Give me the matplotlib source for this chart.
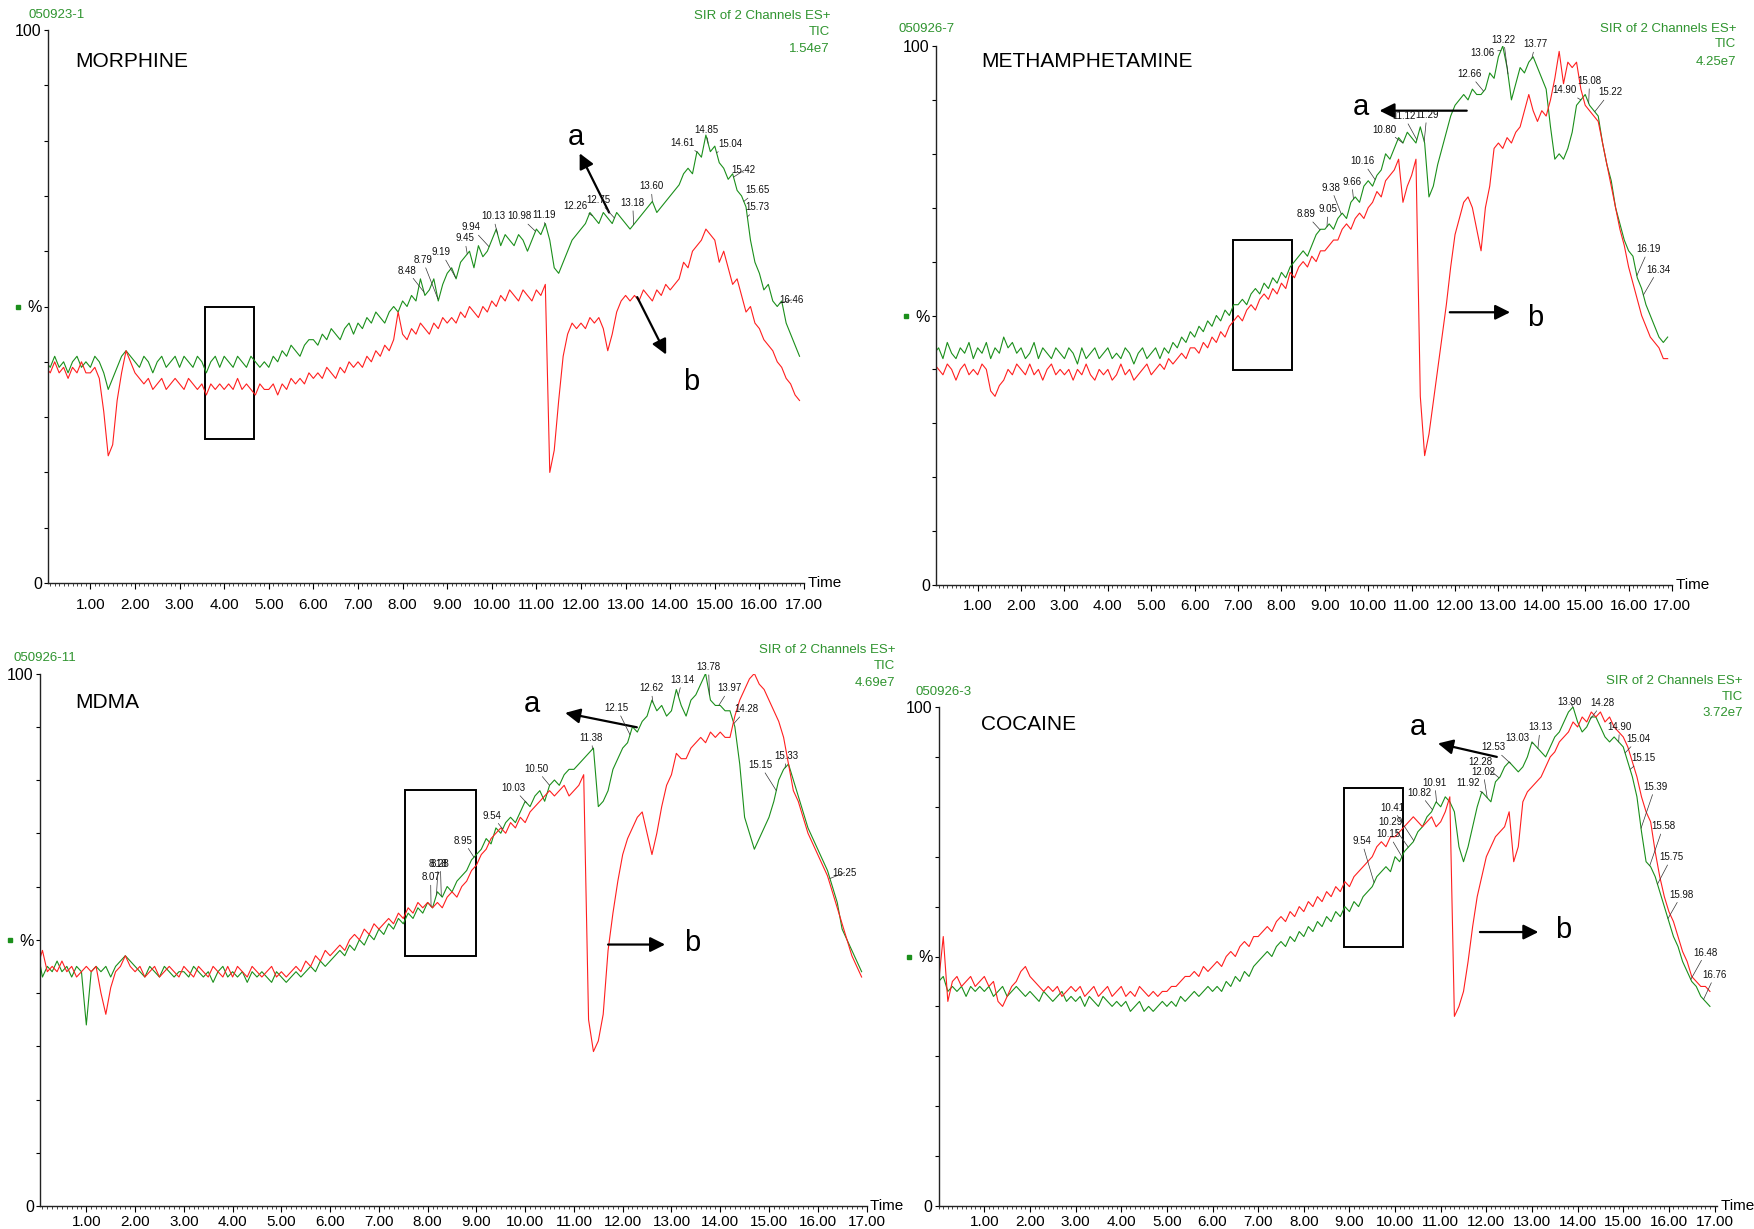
import numpy as np
import matplotlib
matplotlib.use('Agg')
import matplotlib.pyplot as plt
import matplotlib.transforms as mtransforms
from matplotlib.patches import Rectangle
from matplotlib.ticker import MultipleLocator

SANS = ['Liberation Sans', 'DejaVu Sans']
plt.rcParams['font.family'] = SANS

GREEN = '#1b8f1b'
TEXT_GREEN = '#2f942f'
RED = '#ff1f1f'

W, H = 1754, 1229

# retention time (min), one reading every 0.1 min
TIME = np.arange(170) / 10.0

# ---- MORPHINE (050923-1) ----
MORPHINE_A = [
    40, 39, 41, 39, 40, 38, 40, 41, 39, 40,
    39, 41, 40, 38, 35, 37, 39, 41, 42, 41,
    40, 39, 41, 40, 38, 40, 41, 39, 40, 41,
    39, 41, 40, 39, 41, 40, 38, 40, 41, 39,
    41, 40, 39, 41, 40, 39, 41, 40, 39, 40,
    39, 41, 40, 42, 41, 43, 42, 41, 43, 44,
    44, 43, 45, 44, 46, 45, 44, 46, 47, 45,
    47, 46, 48, 47, 49, 48, 47, 49, 50, 49,
    51, 50, 52, 51, 55, 52, 53, 55, 51, 54,
    56, 57, 55, 58, 59, 60, 57, 61, 59, 60,
    62, 64, 61, 63, 62, 61, 63, 62, 60, 62,
    64, 63, 65, 62, 57, 56, 58, 60, 62, 63,
    64, 65, 67, 66, 65, 67, 66, 65, 67, 66,
    65, 64, 65, 66, 67, 68, 69, 67, 68, 69,
    70, 71, 72, 74, 75, 74, 78, 77, 81, 78,
    79, 76, 75, 73, 74, 71, 70, 68, 62, 58,
    56, 53, 54, 51, 50, 51, 47, 45, 43, 41,
]
MORPHINE_B = [
    39, 38, 40, 38, 39, 37, 39, 38, 40, 38,
    38, 39, 37, 31, 23, 25, 33, 38, 42, 40,
    38, 37, 36, 37, 35, 36, 37, 35, 36, 37,
    36, 35, 37, 36, 35, 36, 34, 36, 35, 36,
    35, 36, 35, 37, 35, 36, 35, 34, 36, 35,
    35, 36, 34, 36, 35, 37, 36, 37, 36, 38,
    37, 38, 37, 39, 38, 37, 39, 38, 40, 39,
    40, 39, 41, 40, 42, 41, 43, 42, 44, 49,
    45, 44, 46, 45, 47, 46, 45, 47, 46, 48,
    47, 48, 47, 49, 48, 50, 49, 48, 50, 49,
    51, 50, 52, 51, 53, 52, 51, 53, 52, 51,
    53, 52, 54, 20, 24, 33, 41, 45, 47, 46,
    47, 46, 48, 47, 48, 46, 42, 45, 49, 51,
    52, 51, 52, 51, 53, 52, 51, 53, 52, 54,
    53, 54, 55, 58, 57, 60, 61, 62, 64, 63,
    62, 58, 60, 57, 54, 55, 52, 49, 50, 47,
    46, 44, 43, 42, 40, 39, 37, 36, 34, 33,
]

# ---- METHAMPHETAMINE (050926-7) ----
METH_A = [
    43, 44, 42, 45, 43, 42, 44, 43, 45, 42,
    44, 43, 45, 42, 44, 43, 46, 44, 45, 43,
    44, 42, 43, 45, 42, 44, 43, 42, 44, 43,
    42, 44, 43, 41, 44, 42, 43, 44, 42, 43,
    44, 42, 43, 42, 44, 43, 41, 43, 44, 42,
    43, 44, 42, 44, 43, 45, 44, 46, 45, 47,
    46, 48, 47, 49, 48, 50, 49, 51, 50, 52,
    52, 53, 52, 54, 55, 54, 56, 55, 57, 56,
    58, 57, 59, 60, 61, 62, 61, 63, 65, 66,
    66, 67, 66, 68, 69, 68, 71, 72, 71, 74,
    75, 74, 76, 77, 80, 79, 81, 83, 82, 84,
    83, 82, 85, 82, 72, 74, 78, 81, 84, 87,
    89, 90, 91, 90, 92, 91, 91, 92, 95, 94,
    98, 100, 96, 90, 93, 96, 95, 97, 98, 96,
    94, 92, 85, 79, 80, 79, 81, 84, 89, 90,
    91, 89, 88, 87, 82, 78, 75, 70, 67, 64,
    62, 61, 57, 55, 52, 50, 48, 46, 45, 46,
]
METH_B = [
    41, 40, 39, 41, 40, 38, 40, 41, 39, 40,
    39, 41, 40, 36, 35, 37, 38, 40, 39, 41,
    40, 39, 41, 39, 40, 38, 40, 41, 39, 40,
    39, 40, 38, 40, 39, 41, 39, 38, 40, 39,
    40, 38, 39, 41, 39, 40, 38, 39, 40, 41,
    39, 40, 41, 40, 42, 41, 42, 43, 42, 44,
    44, 43, 45, 44, 46, 45, 47, 46, 48, 49,
    50, 49, 51, 52, 51, 53, 54, 53, 55, 54,
    56, 55, 58, 57, 59, 60, 59, 61, 60, 62,
    62, 63, 64, 64, 66, 67, 66, 68, 69, 68,
    70, 71, 73, 72, 75, 76, 77, 79, 71, 74,
    76, 79, 35, 24, 28, 34, 40, 46, 52, 59,
    65, 68, 71, 72, 70, 66, 62, 70, 74, 81,
    82, 81, 83, 82, 84, 85, 88, 91, 88, 86,
    88, 87, 90, 94, 99, 93, 97, 96, 97, 92,
    89, 88, 87, 86, 82, 78, 74, 70, 66, 63,
    59, 56, 53, 50, 48, 46, 45, 44, 42, 42,
]

# ---- MDMA (050926-11) ----
MDMA_A = [
    48, 43, 45, 44, 46, 44, 45, 43, 45, 44,
    34, 44, 45, 44, 45, 43, 45, 46, 47, 46,
    45, 44, 43, 45, 44, 43, 45, 44, 43, 44,
    44, 43, 45, 44, 43, 44, 42, 44, 45, 43,
    44, 43, 44, 42, 44, 43, 44, 43, 42, 44,
    43, 42, 43, 44, 43, 44, 45, 44, 46, 45,
    46, 47, 48, 47, 49, 48, 50, 49, 51, 50,
    52, 51, 53, 52, 54, 53, 55, 54, 56, 55,
    57, 56, 59, 58, 60, 59, 61, 62, 63, 65,
    66, 67, 69, 68, 71, 70, 72, 73, 72, 74,
    76, 75, 77, 78, 76, 79, 80, 79, 81, 82,
    82, 83, 84, 85, 86, 75, 76, 78, 82, 84,
    86, 87, 90, 89, 91, 92, 95, 93, 94, 92,
    93, 97, 94, 92, 95, 96, 98, 100, 95, 94,
    94, 93, 93, 90, 83, 73, 70, 67, 69, 71,
    73, 76, 80, 82, 83, 80, 77, 74, 71, 69,
    67, 65, 63, 60, 57, 52, 50, 48, 46, 44,
]
MDMA_B = [
    45, 48, 44, 45, 44, 46, 44, 45, 43, 44,
    45, 44, 45, 40, 36, 41, 44, 45, 47, 45,
    44, 45, 43, 44, 45, 43, 44, 45, 44, 43,
    45, 44, 43, 45, 44, 43, 45, 44, 43, 45,
    43, 45, 44, 43, 45, 44, 43, 44, 45, 43,
    44, 43, 44, 45, 44, 46, 45, 47, 46, 48,
    47, 48, 49, 48, 50, 51, 50, 52, 51, 53,
    52, 53, 54, 53, 55, 54, 56, 55, 57, 56,
    57, 56, 57, 56, 58, 59, 58, 60, 61, 63,
    64, 66, 67, 69, 70, 71, 70, 72, 71, 73,
    72, 74, 75, 76, 77, 78, 77, 78, 79, 77,
    78, 79, 81, 35, 29, 31, 36, 48, 55, 61,
    66, 69, 71, 73, 74, 70, 66, 70, 75, 79,
    81, 85, 84, 84, 86, 87, 88, 87, 89, 88,
    89, 88, 88, 92, 95, 97, 99, 100, 98, 97,
    95, 93, 91, 88, 83, 78, 76, 73, 70, 68,
    66, 64, 62, 59, 56, 53, 50, 47, 45, 43,
]

# ---- COCAINE (050926-3) ----
COCAINE_A = [
    45, 46, 43, 44, 43, 44, 42, 44, 43, 44,
    43, 44, 42, 43, 44, 42, 43, 44, 43, 42,
    43, 42, 41, 43, 42, 41, 42, 43, 41, 42,
    41, 42, 40, 42, 41, 40, 42, 41, 40, 41,
    40, 41, 39, 40, 41, 39, 40, 39, 40, 41,
    40, 41, 40, 42, 41, 42, 43, 42, 43, 44,
    43, 44, 43, 45, 44, 46, 45, 47, 46, 48,
    49, 50, 51, 50, 52, 53, 52, 54, 53, 55,
    54, 56, 55, 57, 56, 58, 57, 59, 58, 60,
    59, 61, 60, 62, 63, 64, 66, 67, 68, 67,
    70, 69, 71, 72, 73, 75, 76, 78, 79, 81,
    80, 82, 81, 79, 72, 69, 72, 76, 80, 83,
    82, 81, 85, 86, 88, 89, 88, 87, 88, 90,
    93, 92, 91, 90, 92, 94, 95, 97, 99, 100,
    97, 95, 96, 98, 98, 96, 94, 93, 94, 93,
    92, 89, 86, 82, 75, 69, 68, 66, 63, 60,
    57, 54, 52, 49, 47, 45, 44, 42, 41, 40,
]
COCAINE_B = [
    45, 54, 41, 45, 46, 44, 45, 46, 44, 45,
    46, 44, 45, 41, 40, 42, 44, 45, 47, 48,
    46, 45, 44, 43, 44, 43, 44, 42, 43, 44,
    43, 44, 42, 43, 44, 42, 43, 44, 42, 43,
    44, 42, 43, 42, 44, 43, 42, 43, 42, 43,
    43, 44, 44, 45, 46, 46, 47, 46, 48, 47,
    48, 49, 48, 50, 51, 50, 52, 53, 52, 54,
    54, 55, 56, 55, 57, 58, 57, 59, 58, 60,
    59, 61, 60, 62, 61, 63, 62, 64, 63, 65,
    64, 66, 67, 68, 69, 70, 72, 73, 72, 74,
    74, 75, 76, 77, 78, 77, 76, 77, 78, 76,
    77, 79, 82, 38, 40, 43, 49, 56, 62, 66,
    70, 72, 74, 75, 76, 79, 69, 72, 81, 83,
    84, 85, 86, 88, 90, 91, 93, 94, 95, 97,
    96, 98, 97, 99, 98, 99, 97, 98, 96, 95,
    94, 92, 89, 86, 82, 79, 77, 71, 66, 62,
    59, 57, 54, 51, 49, 46, 45, 44, 44, 43,
]

# peak labels: (retention time, label x, label y)
MORPHINE_PEAKS = [
    ('8.48', 8.10, 56.5), ('8.79', 8.45, 58.4), ('9.19', 8.87, 59.8), ('9.45', 9.39, 62.3),
    ('9.94', 9.54, 64.3), ('10.13', 10.03, 66.3), ('10.98', 10.63, 66.3), ('11.19', 11.17, 66.6),
    ('12.26', 11.88, 68.2), ('12.75', 12.38, 69.3), ('13.18', 13.16, 68.7), ('13.60', 13.57, 71.7),
    ('14.61', 14.27, 79.6), ('14.85', 14.81, 81.9), ('15.04', 15.35, 79.4), ('15.42', 15.65, 74.6),
    ('15.65', 15.96, 71.0), ('15.73', 15.96, 68.0), ('16.46', 16.72, 51.2),
]
METH_PEAKS = [
    ('8.89', 8.56, 68.8), ('9.05', 9.07, 69.7), ('9.38', 9.14, 73.7), ('9.66', 9.62, 74.8),
    ('10.16', 9.87, 78.6), ('10.80', 10.38, 84.5), ('11.12', 10.82, 87.0), ('11.29', 11.35, 87.2),
    ('12.66', 12.33, 94.8), ('13.06', 12.64, 98.7), ('13.22', 13.12, 101.2), ('13.77', 13.85, 100.3),
    ('14.90', 14.52, 91.8), ('15.08', 15.10, 93.5), ('15.22', 15.57, 91.4), ('16.19', 16.46, 62.3),
    ('16.34', 16.68, 58.5),
]
MDMA_PEAKS = [
    ('8.07', 8.06, 61.7), ('8.18', 8.22, 64.3), ('8.28', 8.26, 64.3), ('8.95', 8.73, 68.6),
    ('9.54', 9.32, 73.3), ('10.03', 9.75, 78.5), ('10.50', 10.22, 82.1), ('11.38', 11.36, 87.9),
    ('12.15', 11.88, 93.5), ('12.62', 12.58, 97.2), ('13.14', 13.22, 98.8), ('13.78', 13.76, 101.2),
    ('13.97', 14.19, 97.2), ('14.28', 14.54, 93.3), ('15.15', 14.82, 82.8), ('15.33', 15.36, 84.5),
    ('16.25', 16.55, 62.6),
]
COCAINE_PEAKS = [
    ('9.54', 9.27, 73.1), ('10.15', 9.86, 74.5), ('10.29', 9.90, 76.9), ('10.41', 9.94, 79.8),
    ('10.82', 10.53, 82.8), ('10.91', 10.87, 84.8), ('11.92', 11.60, 84.7), ('12.02', 11.93, 87.0),
    ('12.28', 11.86, 89.0), ('12.53', 12.15, 91.9), ('13.03', 12.67, 93.7), ('13.13', 13.18, 95.9),
    ('13.90', 13.83, 101.0), ('14.28', 14.55, 100.8), ('14.90', 14.92, 96.0), ('15.04', 15.33, 93.6),
    ('15.15', 15.44, 89.7), ('15.39', 15.70, 84.0), ('15.58', 15.88, 76.1), ('15.75', 16.06, 69.9),
    ('15.98', 16.28, 62.4), ('16.48', 16.81, 50.8), ('16.76', 17.01, 46.3),
]

# highlighted window (t0, t1, y0, y1)
MORPHINE_BOX = (3.56, 4.67, 26.0, 50.0)
METH_BOX = (6.88, 8.25, 39.8, 64.1)
MDMA_BOX = (7.53, 9.00, 46.9, 78.1)
COCAINE_BOX = (8.88, 10.18, 52.0, 83.8)

# arrows: letter (x, y), arrow tail, arrow head
MORPHINE_ARROWS = [('a', (11.88, 80.7), (12.63, 67.0), (11.97, 77.7)),
                   ('b', (14.47, 36.4), (13.26, 51.7), (13.91, 41.3))]
METH_ARROWS = [('a', (9.82, 88.7), (12.27, 88.0), (10.26, 88.0)),
               ('b', (13.85, 49.5), (11.88, 50.6), (13.27, 50.6))]
MDMA_ARROWS = [('a', (10.14, 94.3), (12.29, 89.9), (10.82, 92.6)),
               ('b', (13.42, 49.4), (11.70, 49.1), (12.87, 49.1))]
COCAINE_ARROWS = [('a', (10.51, 96.0), (12.23, 90.0), (10.94, 92.7)),
                  ('b', (13.69, 55.3), (11.86, 54.9), (13.14, 54.9))]

PANELS = [
    dict(name='MORPHINE', sample='050923-1', scale='1.54e7',
         a=MORPHINE_A, b=MORPHINE_B, peaks=MORPHINE_PEAKS, box=MORPHINE_BOX, arrows=MORPHINE_ARROWS,
         rect=(48, 30, 804, 583), xlim=(0.05, 17.0), xpad=7,
         name_xy=(75, 61.5), sample_xy=(29, 15), head_x=830, head_y=(16, 32, 49)),
    dict(name='METHAMPHETAMINE', sample='050926-7', scale='4.25e7',
         a=METH_A, b=METH_B, peaks=METH_PEAKS, box=METH_BOX, arrows=METH_ARROWS,
         rect=(936, 46, 1672, 585), xlim=(0.04, 17.0), xpad=6,
         name_xy=(981, 61.5), sample_xy=(899, 29), head_x=1736, head_y=(29, 44, 62)),
    dict(name='MDMA', sample='050926-11', scale='4.69e7',
         a=MDMA_A, b=MDMA_B, peaks=MDMA_PEAKS, box=MDMA_BOX, arrows=MDMA_ARROWS,
         rect=(40, 673.5, 866.5, 1206), xlim=(0.05, 17.0), xpad=2.5,
         name_xy=(75, 703), sample_xy=(13, 658), head_x=895, head_y=(650, 666, 683)),
    dict(name='COCAINE', sample='050926-3', scale='3.72e7',
         a=COCAINE_A, b=COCAINE_B, peaks=COCAINE_PEAKS, box=COCAINE_BOX, arrows=COCAINE_ARROWS,
         rect=(938.7, 707, 1716.8, 1206), xlim=(0.0, 17.05), xpad=2.5,
         name_xy=(981, 725), sample_xy=(915, 692), head_x=1743, head_y=(681, 697, 713)),
]

fig = plt.figure(figsize=(W / 100, H / 100), dpi=100)


def fig_xy(x, y):
    return x / W, 1 - y / H


def draw_panel(p):
    left, top, right, bottom = p['rect']
    ax = fig.add_axes([left / W, 1 - bottom / H, (right - left) / W, (bottom - top) / H])
    ax.plot(TIME, p['a'], color=GREEN, lw=0.8)
    ax.plot(TIME, p['b'], color=RED, lw=0.8)
    ax.set_xlim(*p['xlim'])
    ax.set_ylim(0, 100)

    for s in ['top', 'right']:
        ax.spines[s].set_visible(False)
    for s in ['left', 'bottom']:
        ax.spines[s].set_linewidth(1.0)
        ax.spines[s].set_color('#222222')

    ax.set_xticks(np.arange(1, 18), [f'{v:.2f}' for v in range(1, 18)])
    ax.xaxis.set_minor_locator(MultipleLocator(0.1))
    ax.tick_params(axis='x', which='major', length=4, width=0.8, labelsize=11, pad=p['xpad'])
    ax.tick_params(axis='x', which='minor', length=2, width=0.5)
    ylabels = ['' for _ in range(11)]
    ylabels[0], ylabels[5], ylabels[10] = '0', '%', '100'
    ax.set_yticks(range(0, 101, 10), ylabels)
    ax.tick_params(axis='y', length=3, width=0.8, labelsize=11.5, pad=1.5)

    # small green channel marker next to the % label
    mark_tr = mtransforms.offset_copy(ax.get_yaxis_transform(), fig=fig, x=-30, y=0, units='dots')
    ax.plot([0], [50], marker='s', ms=3.2, color=GREEN, transform=mark_tr, clip_on=False)

    ax.text(1.0, 0, ' Time', transform=ax.transAxes, ha='left', va='center', fontsize=11)

    t0, t1, y0, y1 = p['box']
    ax.add_patch(Rectangle((t0, y0), t1 - t0, y1 - y0, fill=False, lw=1.4, ec='black'))

    for lbl, (lx, ly), tail, head in p['arrows']:
        ax.text(lx, ly, lbl, fontsize=21, ha='center', va='center')
        ax.annotate('', xy=head, xytext=tail,
                    arrowprops=dict(arrowstyle='-|>,head_length=0.9,head_width=0.45',
                                    mutation_scale=10, lw=1.6, color='black',
                                    shrinkA=0, shrinkB=0))

    for lbl, tx, ty in p['peaks']:
        rt = float(lbl)
        yv = np.interp(rt, TIME, p['a'])
        ax.annotate(lbl, xy=(rt, yv), xytext=(tx, ty), ha='center', va='center',
                    fontsize=7, color='#111111', annotation_clip=False,
                    arrowprops=dict(arrowstyle='-', lw=0.5, color='#333333',
                                    shrinkA=0, shrinkB=0))

    fig.text(*fig_xy(*p['name_xy']), p['name'], fontsize=15, ha='left', va='center')
    fig.text(*fig_xy(*p['sample_xy']), p['sample'], fontsize=9.5,
             color=TEXT_GREEN, ha='left', va='center')
    for txt, hy in zip(['SIR of 2 Channels ES+', 'TIC', p['scale']], p['head_y']):
        fig.text(*fig_xy(p['head_x'], hy), txt, fontsize=9.5,
                 color=TEXT_GREEN, ha='right', va='center')
    return ax


for p in PANELS:
    draw_panel(p)

fig.savefig('out.png', dpi=100)
